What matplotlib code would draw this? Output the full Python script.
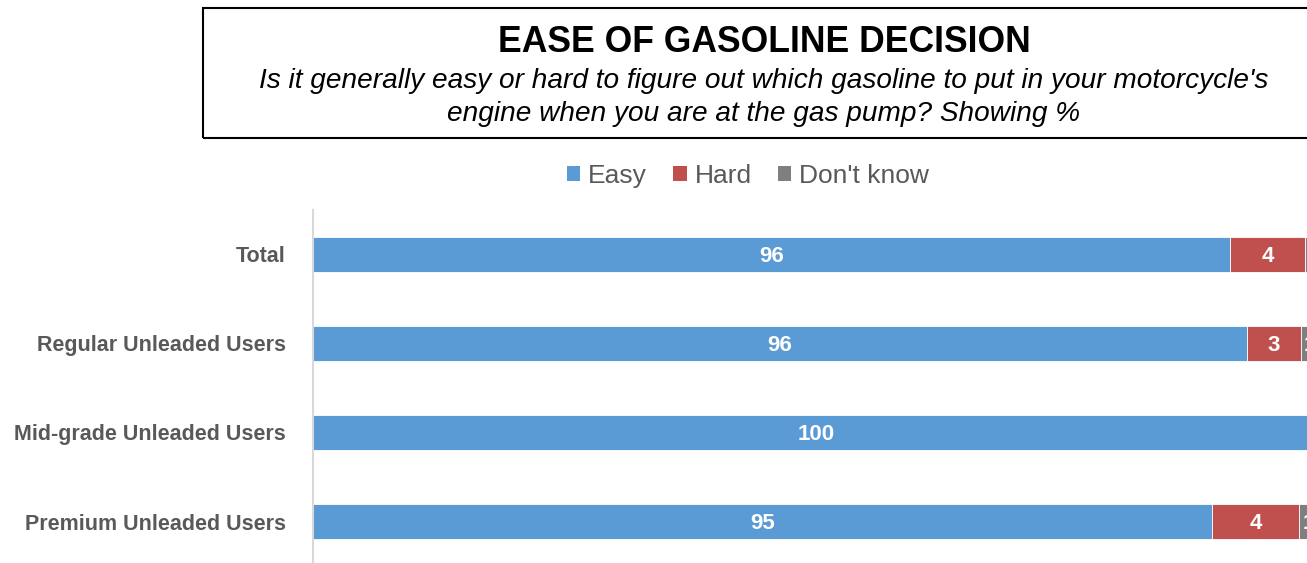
import matplotlib
matplotlib.use("Agg")
import matplotlib.pyplot as plt
from matplotlib.patches import Rectangle, Patch
import numpy as np

plt.rcParams['font.family'] = ['Liberation Sans', 'DejaVu Sans']

categories = ["Total", "Regular Unleaded Users", "Mid-grade Unleaded Users", "Premium Unleaded Users"]
easy = [95.6, 96.4, 100.0, 94.7]
hard = [3.7, 2.7, 0.0, 4.3]
dont_know = [0.7, 0.9, 0.0, 1.0]
series_names = ["Easy", "Hard", "Don't know"]
colors = ["#5B9BD5", "#C0504D", "#7F7F7F"]

title = "EASE OF GASOLINE DECISION"
subtitle1 = "Is it generally easy or hard to figure out which gasoline to put in your motorcycle's"
subtitle2 = "engine when you are at the gas pump? Showing %"

W, H = 1307, 563
fig = plt.figure(figsize=(W / 100, H / 100), dpi=100)

def fx(px):
    return px / W

def fy(py):
    return 1 - py / H

# axes: x from 313px (value 50) to 1319px (value 100)
ax_left, ax_right = 313, 1319 + 20.12 * 1.0
ax_top, ax_bot = 210, 566
ax = fig.add_axes([fx(ax_left), fy(ax_bot), fx(ax_right) - fx(ax_left), (ax_bot - ax_top) / H])
ax.set_xlim(50, 101)
ax.set_ylim(len(categories) - 0.5, -0.5)

y = np.arange(len(categories))
bar_h = 35 / 89
data = [np.array(easy), np.array(hard), np.array(dont_know)]
base = np.zeros(len(categories))
for i, (vals, c, name) in enumerate(zip(data, colors, series_names)):
    if i == 0:
        starts = np.full(len(categories), 50.0)
        widths = vals - 50
    else:
        starts = base
        widths = vals
    ax.barh(y, widths, left=starts, height=bar_h, color=c, label=name, edgecolor='white', linewidth=0.6)
    for yi, s, wd, v in zip(y, starts, widths, vals):
        if v > 0:
            ax.text(s + wd / 2, yi + 0.02, f"{v:.0f}", ha='center', va='center', color='white',
                    fontsize=16, fontweight='bold', clip_on=True)
    base = starts + widths

for s in ["top", "right", "bottom"]:
    ax.spines[s].set_visible(False)
ax.spines["left"].set_color("#D9D9D9")
ax.spines["left"].set_linewidth(1.5)
ax.set_xticks([])
ax.set_yticks(y)
ax.set_yticklabels(categories, fontsize=15.5, fontweight='bold', color='#595959')
ax.tick_params(axis='y', length=0, pad=19.5)

# title box
fig.patches.append(Rectangle((fx(203), fy(138)), fx(1500) - fx(203), (138 - 8) / H,
                             transform=fig.transFigure, fill=False, edgecolor='black',
                             linewidth=1.5, clip_on=False))
fig.text(fx(764), fy(52), title, ha='center', va='baseline', fontsize=25.6, fontweight='bold', color='black')
fig.text(fx(764), fy(88), subtitle1, ha='center', va='baseline', fontsize=20.2, style='italic', color='black')
fig.text(fx(764), fy(121), subtitle2, ha='center', va='baseline', fontsize=20.2, style='italic', color='black')

handles = [Patch(facecolor=c, edgecolor='none', label=n) for c, n in zip(colors, series_names)]
leg = fig.legend(handles=handles, loc='center', bbox_to_anchor=(fx(748), fy(176)), ncol=3, frameon=False,
                 fontsize=19, handlelength=0.5, handleheight=0.5, handletextpad=0.3, columnspacing=1.0,
                 labelcolor='#595959')

fig.savefig("out.png", dpi=100)
